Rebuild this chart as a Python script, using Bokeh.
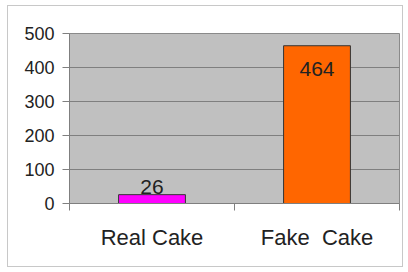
from bokeh.plotting import figure
from bokeh.models import ColumnDataSource, FixedTicker, Range1d, LabelSet
from bokeh.core.properties import value
from bokeh.embed import file_html
from bokeh.resources import INLINE

categories = ["Real Cake", "Fake\u00a0\u00a0Cake"]
values = [26, 464]
colors = ["#FF00FF", "#FF6600"]
y_ticks = [0, 100, 200, 300, 400, 500]

FONT = "Liberation Sans"
YMAX = 500

xs = [i + 0.5 for i in range(len(categories))]
src = ColumnDataSource(dict(x=xs, top=values, color=colors))

p = figure(width=396, height=262, output_backend="svg", toolbar_location=None,
           x_range=Range1d(0, len(categories)), y_range=Range1d(0, YMAX),
           min_border_left=61, min_border_right=5, min_border_top=27, min_border_bottom=65)
p.styles = {"border": "1px solid #c8c8c8", "margin": "5px 0 0 7px"}
p.background_fill_color = "#C0C0C0"
p.border_fill_color = "white"
p.outline_line_color = "#8a8a8a"
p.outline_line_width = 1

p.vbar(x="x", top="top", width=0.405, bottom=0, fill_color="color",
       line_color="#333333", line_width=1, source=src)

# grid
p.xgrid.visible = False
p.ygrid.ticker = FixedTicker(ticks=y_ticks)
p.ygrid.grid_line_color = "#7f7f7f"
p.ygrid.grid_line_width = 1

# y axis
ya = p.yaxis[0]
ya.ticker = FixedTicker(ticks=y_ticks)
ya.axis_line_color = "#7f7f7f"
ya.major_tick_line_color = "#7f7f7f"
ya.major_tick_in = 0
ya.major_tick_out = 7
ya.minor_tick_line_color = None
ya.major_label_text_font = FONT
ya.major_label_text_font_size = "18px"
ya.major_label_text_color = "#222222"
ya.major_label_standoff = 8

# x axis
xa = p.xaxis[0]
xa.ticker = FixedTicker(ticks=xs, minor_ticks=list(range(len(categories) + 1)))
xa.major_label_overrides = {x: c for x, c in zip(xs, categories)}
xa.major_tick_line_color = None
xa.minor_tick_line_color = "#7f7f7f"
xa.minor_tick_in = 0
xa.minor_tick_out = 7
xa.axis_line_color = "#7f7f7f"
xa.major_label_text_font = FONT
xa.major_label_text_font_size = "22px"
xa.major_label_text_color = "#222222"
xa.major_label_standoff = 14

# value labels: outside end when room, otherwise inside end
limit = 0.85 * YMAX
out_idx = [i for i, v in enumerate(values) if v < limit]
in_idx = [i for i, v in enumerate(values) if v >= limit]
src_out = ColumnDataSource(dict(x=[xs[i] for i in out_idx], y=[values[i] for i in out_idx],
                                label=[str(values[i]) for i in out_idx]))
src_in = ColumnDataSource(dict(x=[xs[i] for i in in_idx], y=[values[i] for i in in_idx],
                               label=[str(values[i]) for i in in_idx]))
p.add_layout(LabelSet(x="x", y="y", text="label", source=src_out, text_align="center",
                      text_baseline="bottom", y_offset=1, text_font=value(FONT),
                      text_font_size=value("21px"), text_color="#222222"))
p.add_layout(LabelSet(x="x", y="y", text="label", source=src_in, text_align="center",
                      text_baseline="top", y_offset=-16, text_font=value(FONT),
                      text_font_size=value("21px"), text_color="#222222"))

open("out.html", "w").write(file_html(p, INLINE))
